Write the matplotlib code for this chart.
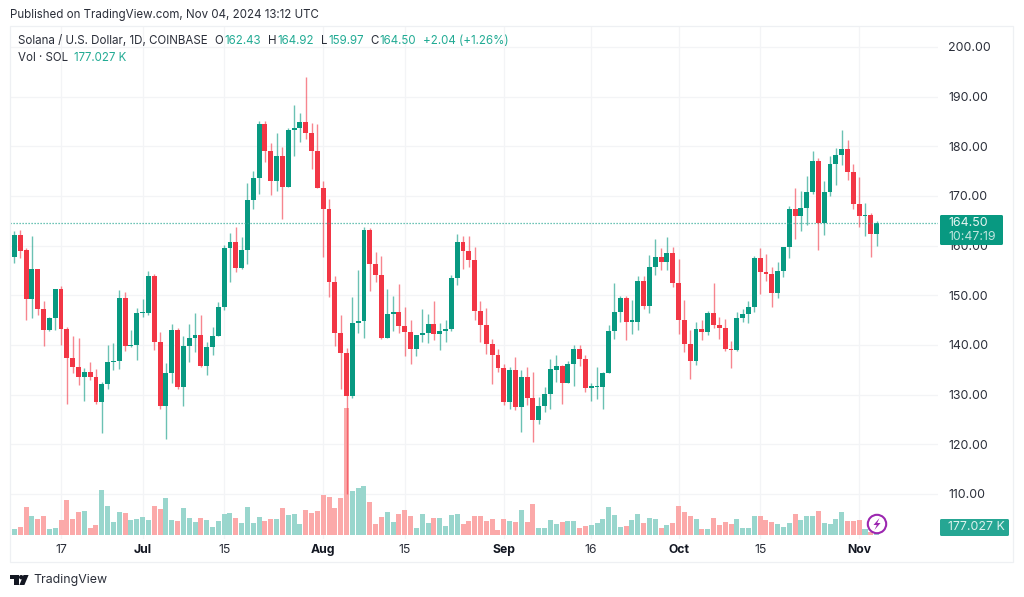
import matplotlib
matplotlib.use("Agg")
import matplotlib.pyplot as plt
import matplotlib.dates as mdates
import numpy as np
import pandas as pd
from matplotlib.patches import Rectangle, Polygon, Circle, FancyBboxPatch

opens = [162.5,157.8,162.2,159.1,149.3,155.2,147.2,143.0,145.5,151.2,143.3,137.4,135.5,133.5,134.6,133.6,128.5,132.2,136.6,136.7,
149.5,139.7,140.0,146.4,146.5,153.9,140.6,127.8,134.3,143.1,131.6,139.8,141.4,142.0,135.7,139.5,141.9,147.7,159.5,160.7,
155.5,159.2,169.2,173.7,184.5,179.0,173.0,178.0,171.8,183.2,183.6,184.9,182.6,179.1,171.6,167.3,152.6,142.4,138.3,129.8,
144.4,144.8,163.2,156.3,154.0,141.5,146.3,146.7,143.8,142.6,139.1,142.0,142.4,144.2,142.3,142.8,143.2,153.4,160.7,159.0,
157.1,146.9,144.0,140.1,138.0,135.4,128.5,135.0,127.5,133.6,129.3,124.9,127.7,130.1,135.0,135.7,132.4,136.1,139.2,137.1,
131.4,131.5,131.5,134.4,142.9,146.7,149.5,144.7,144.7,152.8,147.9,155.6,157.7,156.8,158.5,152.5,145.1,140.1,136.8,143.2,
142.6,146.5,144.0,143.4,139.1,138.9,145.4,146.3,147.7,157.5,154.7,154.2,150.4,154.9,159.7,167.4,166.0,167.5,170.7,177.1,
164.6,170.7,176.4,178.2,179.4,174.8,168.4,166.0,166.2,162.43]
highs = [162.5,163.0,163.2,159.6,162.0,155.3,148.9,145.7,151.3,151.8,143.7,141.9,141.4,135.3,136.6,135.1,132.6,139.9,140.4,151.1,
150.6,143.0,147.4,149.2,154.8,154.3,142.6,136.4,144.2,143.4,141.9,144.2,146.4,146.1,140.6,143.7,148.6,160.1,162.6,163.8,
161.7,172.6,175.0,185.0,185.0,180.6,182.6,179.8,183.6,188.3,186.7,193.9,184.6,184.5,173.0,169.3,153.9,146.0,139.3,149.6,
155.1,163.7,163.5,158.8,158.0,151.2,149.9,152.2,147.6,145.0,142.0,147.3,146.3,148.9,144.5,145.0,154.1,162.4,162.0,162.0,
159.7,148.9,147.4,141.2,139.2,136.2,135.5,137.5,134.9,135.5,134.5,129.5,131.6,137.1,138.0,135.9,136.7,139.9,139.9,138.0,
132.4,135.6,134.5,144.0,152.4,149.9,149.9,149.1,153.9,153.9,158.1,161.4,159.5,161.8,159.8,157.3,149.1,143.0,144.7,145.0,
146.8,152.4,145.6,145.2,140.8,146.6,147.3,148.8,158.0,159.5,158.3,155.7,156.7,159.8,168.0,171.7,171.0,174.0,179.1,177.6,
173.0,178.1,179.6,183.3,181.3,176.4,173.9,168.5,166.5,164.92]
lows = [157.8,156.6,157.6,145.0,145.5,146.0,139.7,142.9,143.0,139.9,128.1,134.4,131.9,128.7,133.0,128.1,122.2,131.2,134.9,135.1,
138.7,139.5,137.0,145.7,146.0,138.9,127.1,121.0,132.4,131.2,127.8,136.5,138.6,135.6,134.0,138.0,141.9,147.1,152.7,154.6,
155.3,156.3,167.3,170.4,176.8,170.2,171.0,165.4,171.8,178.1,180.9,181.5,175.4,171.6,157.7,149.7,139.8,131.2,110.0,129.4,
142.4,141.5,150.9,152.6,141.3,141.4,142.9,142.4,137.8,136.1,137.7,140.7,140.4,141.0,138.9,140.7,142.9,152.0,155.3,155.6,
145.0,140.6,138.1,132.1,134.6,127.9,127.1,126.9,122.4,127.9,120.5,124.1,126.5,127.1,132.6,128.1,132.4,131.8,135.7,130.5,
128.8,129.2,127.1,134.3,141.3,144.6,141.0,142.2,143.1,147.3,146.5,154.1,155.1,155.1,151.7,142.2,138.6,133.2,136.0,141.0,
142.0,143.4,141.2,138.7,135.4,138.7,144.6,144.5,146.7,150.3,152.9,147.7,149.5,153.6,157.6,161.4,163.0,164.1,170.3,159.1,
162.2,170.0,172.3,176.3,173.2,167.4,163.7,162.0,157.8,159.97]
closes = [157.8,162.2,159.0,149.3,155.2,147.2,143.0,145.5,151.2,143.3,137.4,135.5,133.5,134.6,133.6,128.5,132.2,136.5,136.8,149.5,
139.7,140.0,146.5,146.6,153.9,140.6,127.8,134.3,143.1,131.6,139.8,141.4,142.0,135.7,139.5,141.9,147.7,159.5,160.7,155.5,
159.2,169.2,173.7,184.5,179.0,173.0,178.0,171.8,183.2,183.6,184.9,182.6,179.1,171.6,167.3,152.6,142.4,138.3,129.8,144.4,
144.8,163.2,156.3,154.0,141.5,146.3,146.7,143.8,142.6,139.1,142.0,142.4,144.2,142.2,142.8,143.3,153.4,160.7,159.0,157.1,
146.9,144.0,140.1,138.0,135.4,128.5,135.0,127.5,133.6,129.3,124.9,127.7,130.2,135.1,135.7,132.4,136.1,139.2,137.1,131.4,
131.6,131.7,134.4,142.9,146.7,149.5,144.6,144.8,152.8,147.9,155.6,157.7,156.8,158.5,152.5,145.1,140.1,136.8,143.2,142.6,
146.5,144.0,143.4,139.1,138.9,145.4,146.3,147.7,157.5,154.7,154.2,150.4,154.9,159.7,167.4,166.0,167.5,170.7,177.1,164.6,
170.7,176.4,178.2,179.4,174.8,168.4,166.0,166.2,162.4,164.50]
volumes_k = [417,283,383,1383,967,817,967,300,350,767,1767,800,1150,1183,333,483,2250,1467,650,1133,
1117,767,800,883,750,1450,1300,1850,733,700,1333,850,650,867,750,417,700,1033,1083,850,
600,1400,600,900,717,800,800,1333,1000,1067,550,1250,1100,1183,2000,1883,1367,1850,6350,2200,
2350,2467,1650,550,917,1133,650,1050,1250,950,333,1050,617,850,850,467,1000,1050,533,717,
950,950,717,817,250,800,683,667,1250,633,1533,367,367,767,567,667,700,700,333,450,
483,600,800,1383,1000,400,450,767,1050,617,867,817,367,517,583,1433,1133,967,800,283,
300,867,500,650,533,800,350,333,950,967,750,667,567,383,617,1067,750,950,933,1200,
600,533,817,1133,700,683,750,300,167,177.027]
first_date = "2024-06-08"
price_ticks = [110,120,130,140,150,160,170,180,190,200]
time_ticks = ["2024-06-17","2024-07-01","2024-07-15","2024-08-01","2024-08-15","2024-09-01","2024-09-16","2024-10-01","2024-10-15","2024-11-01"]
time_labels = ["17","Jul","15","Aug","15","Sep","16","Oct","15","Nov"]
last_price = 164.50

FONT = "Inter"
plt.rcParams["font.family"] = [FONT, "DejaVu Sans"]
W, H = 1024, 597
GREEN, RED = "#089981", "#F23645"
VGREEN, VRED = "#99D6CD", "#FBA9A9"
GRID = "#F3F4F6"
DARK = "#2A2E39"

dates = pd.date_range(first_date, periods=len(opens))
o, h, l, c = map(np.array, (opens, highs, lows, closes))
up = c >= o
x0 = mdates.date2num(dates[0])

fig = plt.figure(figsize=(W/100, H/100), dpi=100, facecolor="white")
rect = [10/W, 1-539/H, 928/W, 513/H]
base = fig.add_axes(rect, zorder=1)
vol = fig.add_axes(rect, zorder=2, sharex=base)
px = fig.add_axes(rect, zorder=3, sharex=base, sharey=base)
for a in (vol, px):
    a.patch.set_visible(False)
    a.axis("off")
for s in base.spines.values():
    s.set_visible(False)

base.set_xlim(x0+0.24, x0+159.53)
base.set_ylim(100.94, 204.22)
vol.set_ylim(-200, 25450)

base.set_yticks(price_ticks)
base.set_yticklabels([f"{t:.2f}" for t in price_ticks])
base.yaxis.tick_right()
base.tick_params(axis="y", length=0, pad=7.2, labelsize=8.9, labelcolor=DARK)
base.set_xticks(mdates.date2num(pd.to_datetime(time_ticks)))
base.set_xticklabels(time_labels)
base.tick_params(axis="x", length=0, pad=3.5, labelsize=8.8, labelcolor=DARK)
for lab in base.get_xticklabels():
    if lab.get_text().isalpha():
        lab.set_fontweight("bold")
        lab.set_color("#131722")
base.grid(True, color=GRID, lw=0.9)
base.set_axisbelow(True)

num = mdates.date2num(dates)
vol.bar(num, volumes_k, width=0.86, color=[VGREEN if u else VRED for u in up], linewidth=0)

px.axhline(last_price, color="#3FB09E", lw=0.9, ls=(0, (1, 1.4)))
px.vlines(num, l, h, colors=[GREEN if u else RED for u in up], lw=1.0, alpha=0.6)
body_low = np.minimum(o, c)
body_h = np.maximum(np.abs(c-o), 0.25)
px.bar(num, body_h, bottom=body_low, width=0.84,
       color=[GREEN if u else RED for u in up], linewidth=0)

# overlay in pixel coordinates for header, tags and logo
ov = fig.add_axes([0, 0, 1, 1], zorder=5)
ov.set_xlim(0, W); ov.set_ylim(H, 0); ov.axis("off")
ov.add_patch(Rectangle((9.5, 26), 1003.5, 536, fill=False, ec="#EEF0F3", lw=0.9))

TXT = dict(va="center", ha="left")
ov.text(10, 15, "Published on TradingView.com, Nov 04, 2024 13:12 UTC", fontsize=8.3, color=DARK, **TXT)
HG = "#22AB94"
ov.text(17.5, 41.5, "Solana / U.S. Dollar, 1D, COINBASE", fontsize=8.3, color=DARK, **TXT)
for xp, s in [(214, "O"), (268, "H"), (321, "L"), (370, "C")]:
    ov.text(xp, 41.5, s, fontsize=8.3, color=DARK, **TXT)
for xp, s in [(224, "162.43"), (277, "164.92"), (328, "159.97"), (379, "164.50"), (423, "+2.04 (+1.26%)")]:
    ov.text(xp, 41.5, s, fontsize=8.3, color=HG, **TXT)
ov.text(17.5, 58, "Vol · SOL", fontsize=8.3, color=DARK, **TXT)
ov.text(74, 58, "177.027 K", fontsize=8.3, color=HG, **TXT)

ov.add_patch(FancyBboxPatch((940, 215), 63, 30, boxstyle="round,pad=0,rounding_size=1.5", fc=GREEN, ec="none"))
ov.text(948, 223.5, "164.50", fontsize=8.9, color="#EAF6F3", **TXT)
ov.text(948, 237, "10:47:19", fontsize=8.9, color="#BFE5DE", **TXT)
ov.add_patch(FancyBboxPatch((940, 519), 69, 17, boxstyle="round,pad=0,rounding_size=1.5", fc="#26A693", ec="none"))
ov.text(948, 527.5, "177.027 K", fontsize=8.9, color="#DDF2EE", **TXT)

# lightning badge
ov.add_patch(Circle((877, 524), 9.2, fc="white", ec="#9C27B0", lw=1.5, zorder=6))
ov.add_patch(Polygon([(879.5, 518), (873.5, 525), (876.8, 525), (874.5, 530), (880.5, 523), (877.2, 523)],
                     closed=True, fc="#9C27B0", ec="none", zorder=7))

# TradingView mark
ov.add_patch(Polygon([(10, 575), (18.5, 575), (18.5, 585), (14, 585), (14, 579.3), (10, 579.3)], closed=True, fc="#131722", ec="none"))
ov.add_patch(Circle((21.2, 577.2), 2.2, fc="#131722", ec="none"))
ov.add_patch(Polygon([(23.5, 575), (28.6, 575), (24.4, 585), (19.4, 585)], closed=True, fc="#131722", ec="none"))
ov.text(33, 580.5, "TradingView", fontsize=8.9, color=DARK, **TXT)

fig.savefig("out.png", dpi=100, facecolor="white")
